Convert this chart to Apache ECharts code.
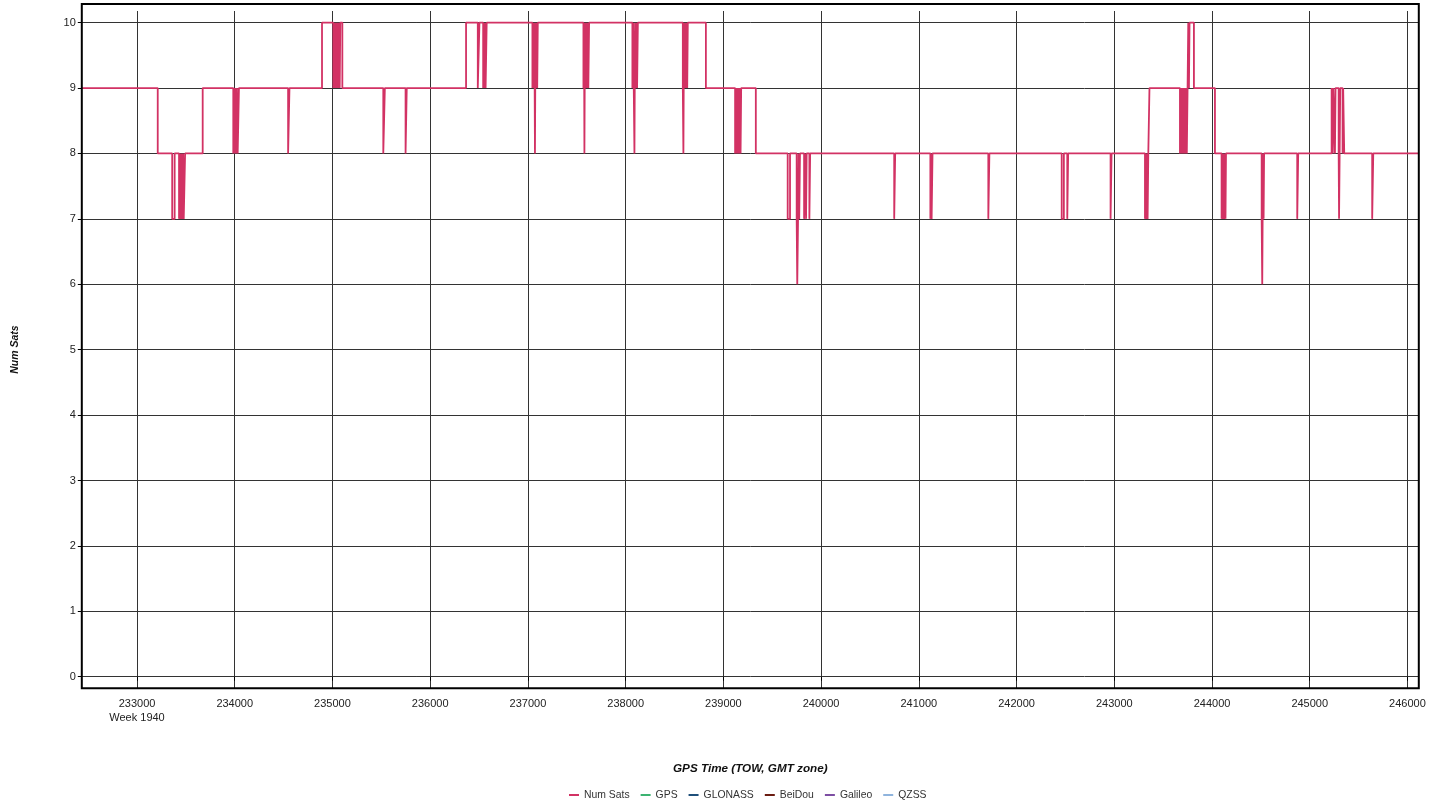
<!DOCTYPE html>
<html><head><meta charset="utf-8">
<script src="https://cdn.jsdelivr.net/npm/echarts@6/dist/echarts.min.js"></script>
<style>html,body{margin:0;padding:0;background:#fff}#c{width:1444px;height:805px}</style>
</head><body><div id="c"></div>
<script>
// GPS time of week (s) at which the satellite count changes, and the new count
const changeTimes = [
  232435, 233212, 233360, 233385, 233430, 233440, 233446, 233456, 233462, 233472, 233478, 233492,
  233672, 233985, 233993, 234000, 234008, 234015, 234023, 234030, 234043, 234546, 234560,
  234893, 235009, 235015, 235022, 235028, 235035, 235041, 235048, 235054, 235061, 235067, 235074, 235080, 235101,
  235520, 235536, 235748, 235760,
  236367, 236487, 236504, 236542, 236548, 236554, 236561, 236567, 236578,
  237046, 237053, 237060, 237066, 237072, 237078, 237084, 237090, 237095, 237101,
  237568, 237574, 237578, 237584, 237590, 237597, 237604, 237611, 237618, 237626,
  238069, 238076, 238083, 238090, 238096, 238103, 238110, 238117, 238125,
  238585, 238591, 238597, 238604, 238611, 238618, 238625, 238630, 238636,
  238821, 239120, 239127, 239134, 239141, 239148, 239155, 239162, 239170, 239176, 239182,
  239332, 239658, 239682, 239750, 239756, 239764, 239770, 239776, 239784,
  239826, 239836, 239846, 239852, 239880, 239888,
  240748, 240758, 241118, 241125, 241131, 241140, 241711, 241722,
  242462, 242484, 242519, 242528, 242962, 242972,
  243314, 243321, 243328, 243335, 243341, 243348,
  243360, 243672, 243679, 243686, 243693, 243700, 243707, 243714, 243721, 243728, 243735, 243742, 243750,
  243757, 243764, 243770, 243815,
  244030, 244098, 244105, 244112, 244119, 244126, 244133, 244138, 244143,
  244508, 244514, 244518, 244525, 244528, 244533, 244872, 244882,
  245224, 245236, 245242, 245258, 245264, 245296, 245300, 245306, 245312, 245336, 245342, 245353,
  245639, 245650, 246116
];
const numSats = [
  9, 8, 7, 8, 7, 8, 7, 8, 7, 8, 7, 8,
  9, 8, 9, 8, 9, 8, 9, 8, 9, 8, 9,
  10, 9, 10, 9, 10, 9, 10, 9, 10, 9, 10, 9, 10, 9,
  8, 9, 8, 9,
  10, 9, 10, 9, 10, 9, 10, 9, 10,
  9, 10, 9, 10, 8, 10, 9, 10, 9, 10,
  9, 10, 8, 10, 9, 10, 9, 10, 9, 10,
  9, 10, 9, 8, 10, 9, 10, 9, 10,
  9, 8, 10, 9, 10, 9, 10, 9, 10,
  9, 8, 9, 8, 9, 8, 9, 8, 9, 8, 9,
  8, 7, 8, 7, 6, 7, 8, 7, 8,
  7, 8, 7, 8, 7, 8,
  7, 8, 7, 8, 7, 8, 7, 8,
  7, 8, 7, 8, 7, 8,
  7, 8, 7, 8, 7, 8,
  9, 8, 9, 8, 9, 8, 9, 8, 9, 8, 9, 8, 9,
  10, 9, 10, 9,
  8, 7, 8, 7, 8, 7, 8, 7, 8,
  7, 6, 7, 8, 7, 8, 7, 8,
  9, 8, 9, 8, 9, 8, 7, 8, 9, 8, 9, 8,
  7, 8, 8
];
const xTickValues = [233000, 234000, 235000, 236000, 237000, 238000, 239000, 240000, 241000, 242000, 243000, 244000, 245000, 246000];
const yTickValues = [0, 1, 2, 3, 4, 5, 6, 7, 8, 9, 10];
const seriesNames = ['Num Sats', 'GPS', 'GLONASS', 'BeiDou', 'Galileo', 'QZSS'];
const seriesColors = ['#d23264', '#3cb371', '#1f4f7a', '#6b1d12', '#7d4ea3', '#8fb4dd'];
const weekLabel = 'Week 1940';

const FONT = '"Liberation Sans", Arial, sans-serif';
const chart = echarts.init(document.getElementById('c'), null, {renderer: 'canvas'});

const satData = changeTimes.map((t, i) => [t, numSats[i]]);
const series = seriesNames.map((name, i) => ({
  name: name,
  type: 'line',
  step: 'end',
  showSymbol: false,
  symbol: 'none',
  animation: false,
  color: seriesColors[i],
  lineStyle: {width: 1.8, color: seriesColors[i]},
  data: i === 0 ? satData : []
}));
series[0].markLine = {
  silent: true, symbol: 'none', animation: false,
  label: {show: false},
  lineStyle: {color: '#222', width: 1, type: 'solid'},
  data: [{yAxis: 10.178}]
};

chart.setOption({
  backgroundColor: '#fff',
  animation: false,
  textStyle: {fontFamily: FONT},
  grid: {left: 81.8, right: 25.2, top: 11, bottom: 116.7, show: false},
  legend: {
    data: seriesNames,
    left: 564, top: 785,
    icon: 'rect', itemWidth: 10, itemHeight: 2, itemGap: 11,
    textStyle: {fontFamily: FONT, fontSize: 10.4, color: '#333'}
  },
  xAxis: {
    type: 'value', min: 232435, max: 246116,
    name: 'GPS Time (TOW, GMT zone)', nameLocation: 'middle', nameGap: 74,
    nameTextStyle: {fontFamily: FONT, fontSize: 11.7, fontWeight: 'bold', fontStyle: 'italic', color: '#111'},
    axisLine: {show: false},
    axisTick: {show: true, customValues: xTickValues, length: 4, lineStyle: {color: '#000', width: 1}},
    axisLabel: {
      customValues: xTickValues, margin: 9, fontSize: 11, color: '#222', lineHeight: 14, fontFamily: FONT,
      formatter: v => v === xTickValues[0] ? v + '\n' + weekLabel : String(v)
    },
    splitLine: {show: true, lineStyle: {color: '#333', width: 1}}
  },
  yAxis: {
    type: 'value', min: -0.177, max: 10.178,
    name: 'Num Sats', nameLocation: 'middle', nameGap: 61,
    nameTextStyle: {fontFamily: FONT, fontSize: 10.5, fontWeight: 'bold', fontStyle: 'italic', color: '#111'},
    axisLine: {show: false},
    axisTick: {show: true, customValues: yTickValues, length: 4, lineStyle: {color: '#000', width: 1}},
    axisLabel: {customValues: yTickValues, margin: 6, fontSize: 11, color: '#222', fontFamily: FONT},
    splitLine: {show: true, lineStyle: {color: '#333', width: 1}}
  },
  graphic: [{
    type: 'rect', silent: true, z: 100,
    shape: {x: 81.8, y: 4, width: 1337, height: 684.3},
    style: {fill: 'none', stroke: '#000', lineWidth: 2}
  }],
  series: series
});
</script>
</body></html>
